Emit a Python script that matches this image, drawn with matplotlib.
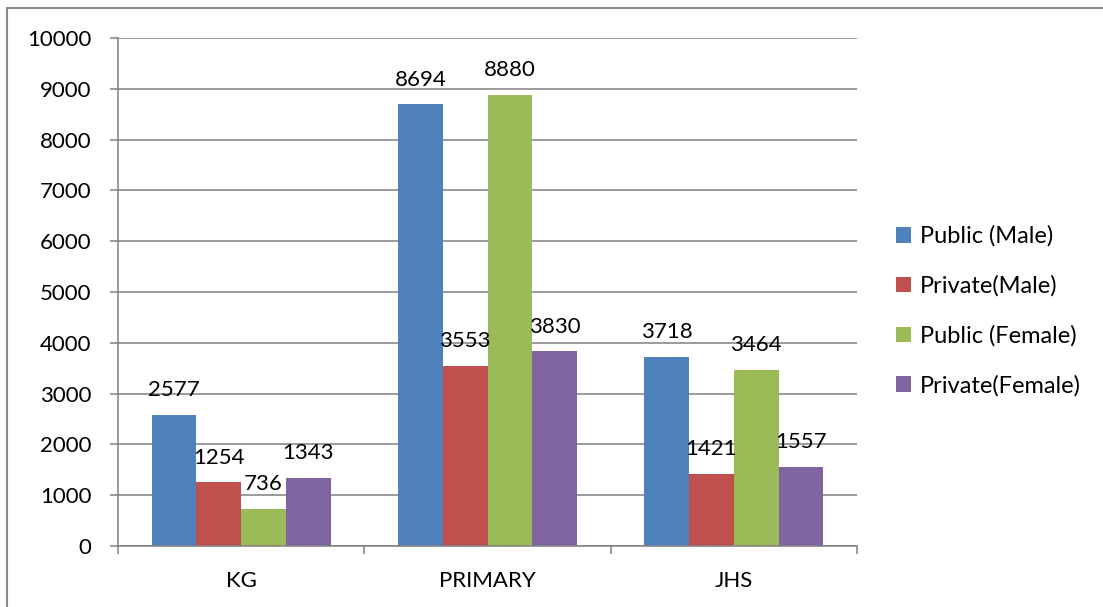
import numpy as np
import matplotlib
matplotlib.use("Agg")
import matplotlib.pyplot as plt
from matplotlib.lines import Line2D

plt.rcParams['font.family'] = ['Lato', 'DejaVu Sans']

categories = ["KG", "PRIMARY", "JHS"]
series_names = ["Public (Male)", "Private(Male)", "Public (Female)", "Private(Female)"]
public_male = [2577, 8694, 3718]
private_male = [1254, 3553, 1421]
public_female = [736, 8880, 3464]
private_female = [1343, 3830, 1557]
colors = ["#4F81BD", "#C0504D", "#9BBB59", "#8064A2"]

series = [public_male, private_male, public_female, private_female]

fig = plt.figure(figsize=(11.03, 6.07), dpi=100)
ax = fig.add_axes([118 / 1103, 61 / 607, (857 - 118) / 1103, (546 - 38) / 607])

# Excel style: gap width 150%
n = len(series)
bar_w = 1 / (n + 1.5)
x = np.arange(len(categories))
fs = 16
grid_col = "#808080"

for i, (vals, c, name) in enumerate(zip(series, colors, series_names)):
    pos = x - 0.5 + 0.75 * bar_w + (i + 0.5) * bar_w
    ax.bar(pos, vals, width=bar_w, color=c, label=name, zorder=2)
    for p, v in zip(pos, vals):
        ax.annotate(str(v), (p, v), xytext=(0, 13.5), textcoords="offset points",
                    ha="center", va="baseline", fontsize=fs, zorder=3)

ax.set_xlim(-0.5, len(categories) - 0.5)
ax.set_ylim(0, 10000)
ax.set_yticks(np.arange(0, 10001, 1000))
ax.yaxis.grid(True, color=grid_col, linewidth=1.1, zorder=0)
ax.set_axisbelow(True)

ax.set_xticks(x)
ax.set_xticklabels(categories, fontsize=fs)
ax.set_xticks(np.arange(-0.5, len(categories), 1), minor=True)
ax.tick_params(axis="x", which="major", length=0, pad=18)
ax.tick_params(axis="x", which="minor", length=6, width=1.1, color=grid_col, direction="out")
ax.tick_params(axis="y", length=6, width=1.1, color=grid_col, pad=13, labelsize=fs)

for s in ["top", "right"]:
    ax.spines[s].set_visible(False)
for s in ["left", "bottom"]:
    ax.spines[s].set_color(grid_col)
    ax.spines[s].set_linewidth(1.1)

fig.legend(loc="center left", bbox_to_anchor=(896 / 1103, 1 - 311 / 607),
           frameon=False, fontsize=17, handlelength=0.65, handleheight=0.65,
           handletextpad=0.35, labelspacing=1.2, borderpad=0, borderaxespad=0)

# outer chart frame (top and left edges visible)
fig.add_artist(Line2D([7 / 1103, 7 / 1103], [0, 1 - 8 / 607], color="#8a8a8a", lw=1.5))
fig.add_artist(Line2D([7 / 1103, 1], [1 - 8 / 607, 1 - 8 / 607], color="#8a8a8a", lw=1.5))

fig.savefig("out.png", dpi=100)
